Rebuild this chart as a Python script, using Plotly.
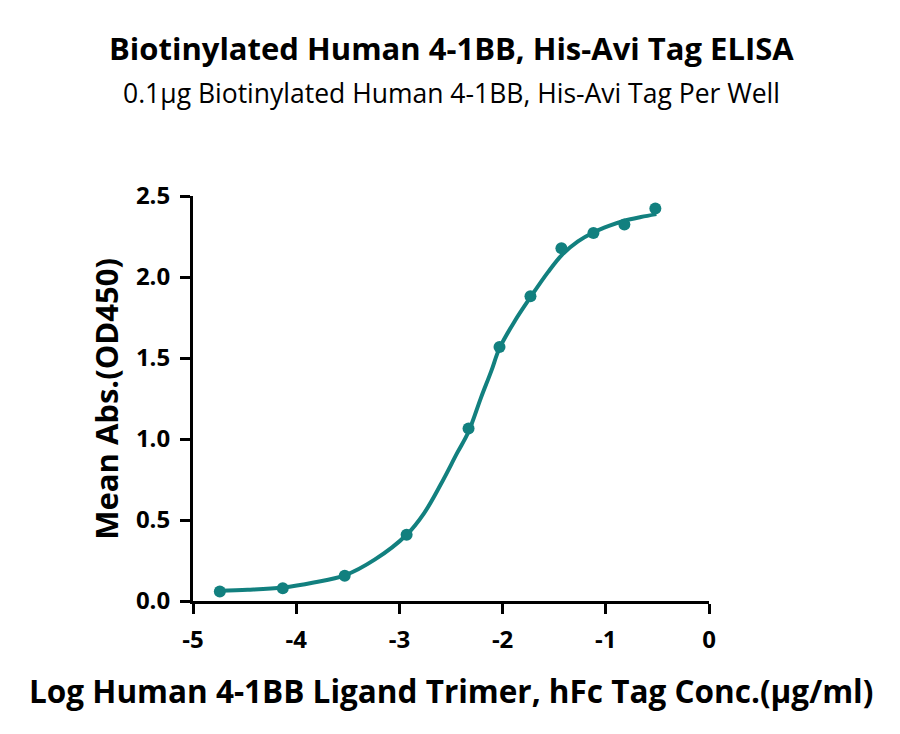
import plotly.graph_objects as go

# measured points (log conc vs mean OD450)
log_conc = [-4.74, -4.13, -3.53, -2.93, -2.33, -2.03, -1.73, -1.43, -1.12, -0.82, -0.52]
mean_abs = [0.059, 0.079, 0.156, 0.409, 1.065, 1.568, 1.881, 2.178, 2.271, 2.324, 2.423]

# fitted curve
fit_x = [-4.74, -4.47, -4.13, -3.83, -3.53, -3.24, -2.93, -2.76, -2.60, -2.44, -2.33,
         -2.21, -2.11, -2.03, -1.88, -1.73, -1.56, -1.42, -1.27, -1.12, -0.97, -0.82,
         -0.66, -0.51]
fit_y = [0.063, 0.069, 0.083, 0.114, 0.158, 0.255, 0.409, 0.543, 0.719, 0.914, 1.045,
         1.254, 1.419, 1.560, 1.730, 1.875, 2.030, 2.140, 2.220, 2.275, 2.315, 2.347,
         2.370, 2.388]

x_ticks = [-5, -4, -3, -2, -1, 0]
y_ticks = [0.0, 0.5, 1.0, 1.5, 2.0, 2.5]

teal = "#12807f"
font_fam = "Open Sans, Noto Sans, sans-serif"

fig = go.Figure()
fig.add_trace(go.Scatter(x=fit_x, y=fit_y, mode="lines",
                         line=dict(color=teal, width=4, shape="spline", smoothing=1.0),
                         hoverinfo="skip", showlegend=False))
fig.add_trace(go.Scatter(x=log_conc, y=mean_abs, mode="markers",
                         marker=dict(color=teal, size=12), showlegend=False))

axis_common = dict(showgrid=False, zeroline=False, showline=True, linecolor="black",
                   linewidth=3, ticks="outside", ticklen=10, tickwidth=3, tickcolor="black",
                   ticklabelstandoff=5,
                   tickfont=dict(family=font_fam, size=24, color="black", weight="bold"))

fig.update_xaxes(range=[-5, 0], tickvals=x_ticks, ticktext=[str(v) for v in x_ticks],
                 **axis_common)
fig.update_yaxes(range=[0, 2.5], tickvals=y_ticks, ticktext=["%.1f" % v for v in y_ticks],
                 **axis_common)

fig.update_layout(
    width=900, height=734,
    margin=dict(l=185, r=199, t=188, b=141),
    plot_bgcolor="white", paper_bgcolor="white",
    annotations=[
        dict(text="<b>Biotinylated Human 4-1BB, His-Avi Tag ELISA</b>", x=0.5, y=1.365,
             xref="paper", yref="paper", showarrow=False, yanchor="middle",
             font=dict(family=font_fam, size=31, color="black")),
        dict(text="0.1μg Biotinylated Human 4-1BB, His-Avi Tag Per Well", x=0.5, y=1.254,
             xref="paper", yref="paper", showarrow=False, yanchor="middle",
             font=dict(family=font_fam, size=26.5, color="black")),
        dict(text="<b>Log Human 4-1BB Ligand Trimer, hFc Tag Conc.(μg/ml)</b>", x=0.5, y=-0.222,
             xref="paper", yref="paper", showarrow=False, yanchor="middle",
             font=dict(family=font_fam, size=31.5, color="black")),
        dict(text="<b>Mean Abs.(OD450)</b>", x=-0.17, y=0.5, textangle=-90,
             xref="paper", yref="paper", showarrow=False, xanchor="center", yanchor="middle",
             font=dict(family=font_fam, size=31, color="black")),
    ],
)

fig.write_html("out.html")
